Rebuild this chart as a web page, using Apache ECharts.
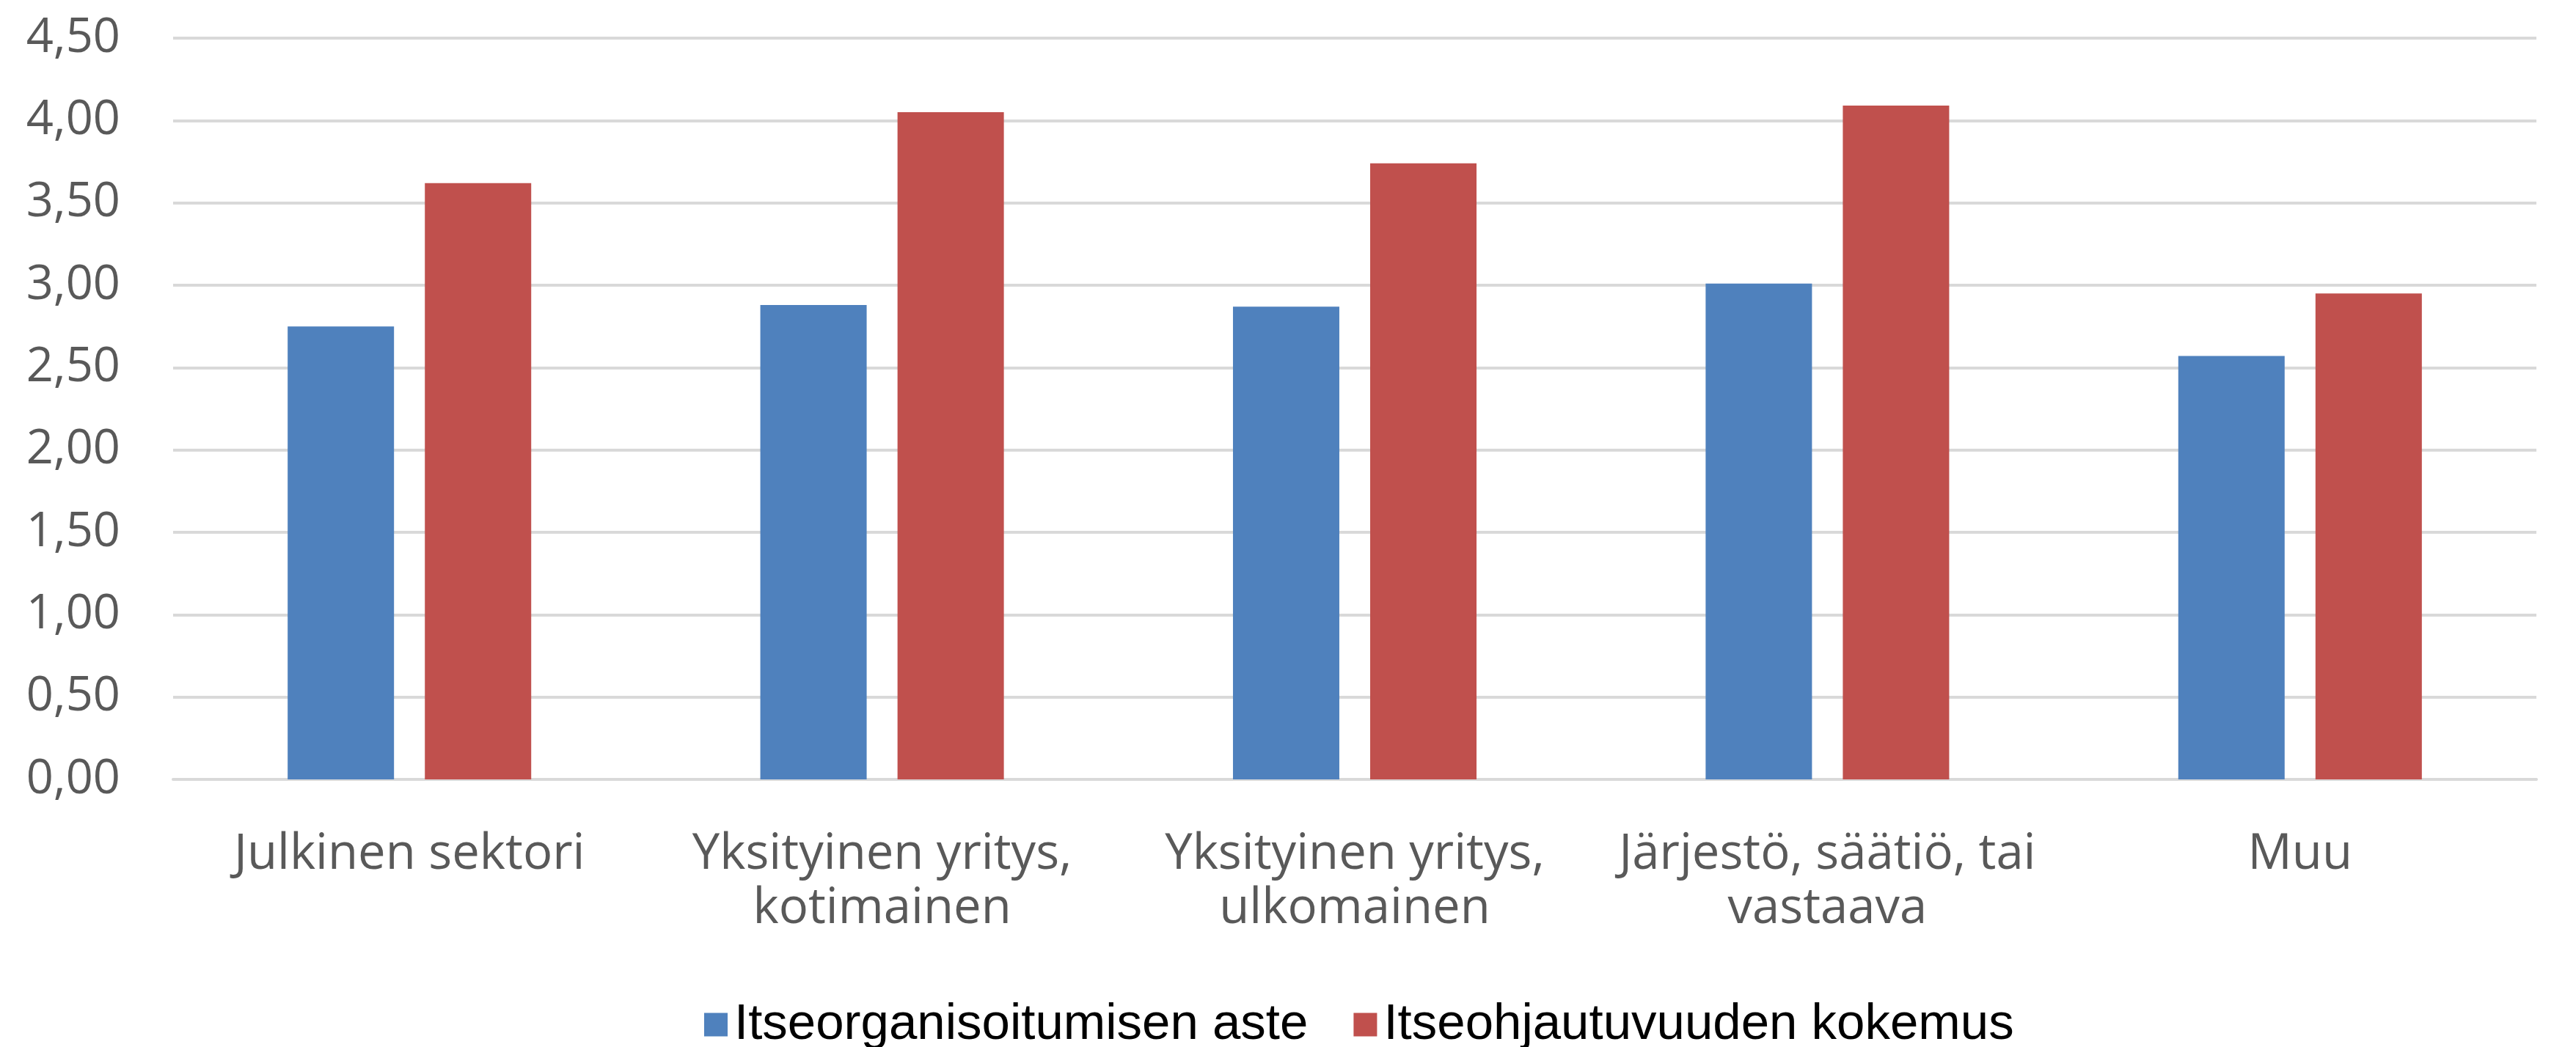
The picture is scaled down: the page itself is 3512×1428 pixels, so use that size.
<!DOCTYPE html>
<html>
<head>
<meta charset="utf-8">
<script src="https://cdn.jsdelivr.net/npm/echarts@6/dist/echarts.min.js"></script>
<style>
  html, body { margin: 0; padding: 0; background: #ffffff; }
  #chart { width: 3512px; height: 1428px; }
</style>
</head>
<body>
<div id="chart"></div>
<script>
// Sector categories (two-line labels where the name wraps)
const categories = [
  'Julkinen sektori',
  'Yksityinen yritys,\nkotimainen',
  'Yksityinen yritys,\nulkomainen',
  'Järjestö, säätiö, tai\nvastaava',
  'Muu'
];

// Series names
const seriesNames = ['Itseorganisoitumisen aste', 'Itseohjautuvuuden kokemus'];

// Mean scores per sector
const organisingValues = [2.75, 2.88, 2.87, 3.01, 2.57];
const experienceValues = [3.62, 4.05, 3.74, 4.09, 2.95];

// Value axis range
const yMin = 0;
const yMax = 4.5;
const yStep = 0.5;

const colors = ['#4F81BD', '#C0504D'];

const chart = echarts.init(document.getElementById('chart'), null, { renderer: 'canvas' });

chart.setOption({
  animation: false,
  backgroundColor: '#ffffff',
  color: colors,
  grid: { left: 236, right: 54, top: 52, bottom: 365, containLabel: false },
  legend: {
    left: 955,
    top: 1358,
    itemWidth: 32,
    itemHeight: 32,
    itemGap: 62,
    icon: 'rect',
    textStyle: {
      fontFamily: 'Liberation Sans',
      fontSize: 69,
      color: '#000000',
      padding: [0, 0, 0, 4]
    },
    data: seriesNames
  },
  xAxis: {
    type: 'category',
    data: categories,
    axisLine: { show: true, lineStyle: { color: '#D9D9D9', width: 4 } },
    axisTick: { show: false },
    axisLabel: {
      margin: 66,
      fontFamily: 'Open Sans',
      fontSize: 67,
      lineHeight: 74,
      color: '#595959',
      interval: 0
    }
  },
  yAxis: {
    type: 'value',
    min: yMin,
    max: yMax,
    interval: yStep,
    axisLine: { show: false },
    axisTick: { show: false },
    splitLine: { lineStyle: { color: '#D9D9D9', width: 4 } },
    axisLabel: {
      margin: 72,
      fontFamily: 'Open Sans',
      fontSize: 65,
      color: '#595959',
      formatter: v => v.toFixed(2).replace('.', ',')
    }
  },
  series: [
    {
      name: seriesNames[0],
      type: 'bar',
      data: organisingValues,
      barWidth: 145,
      barGap: '29%',
      itemStyle: { color: colors[0] }
    },
    {
      name: seriesNames[1],
      type: 'bar',
      data: experienceValues,
      barWidth: 145,
      barGap: '29%',
      itemStyle: { color: colors[1] }
    }
  ]
});
</script>
</body>
</html>
